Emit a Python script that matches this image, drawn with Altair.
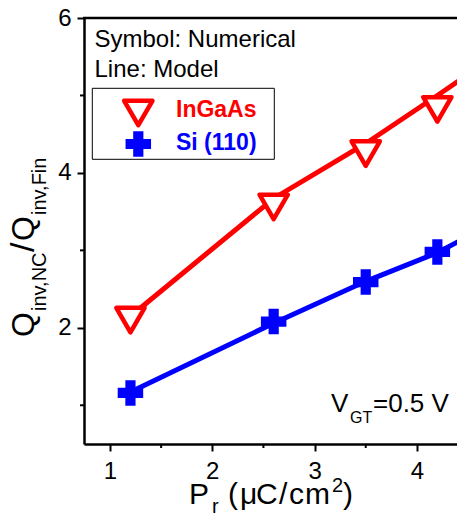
import altair as alt
import pandas as pd

# ---- data ----
pr_num = [1.2, 2.6, 3.5, 4.2]
ingaas_num = [2.10, 3.56, 4.25, 4.82]
si_num = [1.16, 2.08, 2.59, 2.98]

pr_model = [1.2, 2.6, 3.5, 4.2, 4.6]
ingaas_model = [2.15, 3.67, 4.38, 5.00, 5.36]
si_model = [1.17, 2.06, 2.60, 2.97, 3.25]

x_ticks = [1, 2, 3, 4]
x_minor = [1.5, 2.5, 3.5]
y_ticks = [2, 4, 6]
y_minor = [1, 3, 5]

series_names = ["InGaAs", "Si (110)"]

# ---- layout / style ----
W, H = 373, 426
FONT = "Liberation Sans"
RED, BLUE = "#ff0000", "#0000ff"

xscale = alt.Scale(domain=[0.746, 0.746 + W / 102.3], nice=False, zero=False)
yscale = alt.Scale(domain=[0.5, 6.0], nice=False, zero=False)

axis_common = dict(title=None, grid=False, labelFont=FONT, labelFontSize=24,
                   labelColor="black", tickSize=7, tickWidth=2, tickColor="black",
                   domainColor="black", domainWidth=2.5,
                   labelFlush=False, labelOverlap=False, format="d")
xaxis = alt.Axis(values=x_ticks, labelPadding=8, **axis_common)
yaxis = alt.Axis(values=y_ticks, labelPadding=6, **axis_common)

model_df = pd.DataFrame({
    "x": pr_model + pr_model,
    "y": ingaas_model + si_model,
    "s": [series_names[0]] * len(pr_model) + [series_names[1]] * len(pr_model),
})
ingaas_df = pd.DataFrame({"x": pr_num, "y": ingaas_num})
si_df = pd.DataFrame({"x": pr_num, "y": si_num})

one = alt.Data(values=[{"a": 0}])


def X(field="x"):
    return alt.X(f"{field}:Q", scale=xscale, axis=xaxis)


def Y(field="y"):
    return alt.Y(f"{field}:Q", scale=yscale, axis=yaxis)


def txt(s, x, y, size, color="black", bold=False, angle=0):
    kw = dict(text=s, font=FONT, fontSize=size, color=color,
              align="left", baseline="alphabetic")
    if bold:
        kw["fontWeight"] = "bold"
    if angle:
        kw["angle"] = angle
    return alt.Chart(one).mark_text(**kw).encode(x=alt.value(x), y=alt.value(y))


layers = []

# model lines (first layer: owns the axes)
layers.append(alt.Chart(model_df).mark_line(strokeWidth=5, clip=True).encode(
    x=X(), y=Y(),
    color=alt.Color("s:N", scale=alt.Scale(domain=series_names, range=[RED, BLUE]), legend=None)))

# numerical symbols
layers.append(alt.Chart(ingaas_df).mark_point(
    shape="triangle-down", size=800, filled=True, fill="white", stroke=RED,
    strokeWidth=4.5, strokeJoin="round", opacity=1).encode(x=X(), y=Y()))
layers.append(alt.Chart(si_df).mark_point(
    shape="cross", size=650, filled=True, color=BLUE, opacity=1, strokeWidth=0).encode(x=X(), y=Y()))

# minor ticks
layers.append(alt.Chart(pd.DataFrame({"x": x_minor})).mark_rule(strokeWidth=2, color="black").encode(
    x=X(), y=alt.value(H), y2=alt.value(H + 4)))
layers.append(alt.Chart(pd.DataFrame({"y": y_minor})).mark_rule(strokeWidth=2, color="black").encode(
    y=Y(), x=alt.value(0), x2=alt.value(-4)))

# legend box
layers.append(alt.Chart(one).mark_rect(fill="white", stroke="black", strokeWidth=1).encode(
    x=alt.value(8.3), x2=alt.value(190.3), y=alt.value(70.3), y2=alt.value(141.3)))

# legend symbols
layers.append(alt.Chart(one).mark_point(
    shape="triangle-down", size=800, filled=True, fill="white", stroke=RED,
    strokeWidth=4.5, strokeJoin="round", opacity=1).encode(x=alt.value(54.3), y=alt.value(95)))
layers.append(alt.Chart(one).mark_point(
    shape="cross", size=650, filled=True, color=BLUE, opacity=1, strokeWidth=0).encode(
    x=alt.value(54.3), y=alt.value(126)))
layers.append(txt("InGaAs", 92, 98.7, 23, RED, bold=True))
layers.append(txt("Si (110)", 92, 132, 23, BLUE, bold=True))

# annotations
layers.append(txt("Symbol: Numerical", 10.5, 28.7, 24))
layers.append(txt("Line: Model", 10.5, 58.7, 24))
layers.append(txt("V", 247, 394, 26))
layers.append(txt("GT", 266, 405, 16))
layers.append(txt("=0.5 V", 289, 394, 26))

# top frame line
layers.append(alt.Chart(one).mark_rule(strokeWidth=2.5, color="black").encode(
    x=alt.value(-1), x2=alt.value(W + 2), y=alt.value(0)))

# x axis title: P_r (μC/cm²)
for s, x, y, size in [("P", 105, 486, 30), ("r", 128, 495, 20), ("(", 144, 486, 30),
                      ("μ", 156, 486, 30), ("C", 172, 486, 30), ("/", 195, 486, 30),
                      ("c", 205, 486, 30), ("m", 221, 486, 30), ("2", 248, 474, 20),
                      (")", 259, 486, 30)]:
    layers.append(txt(s, x, y, size))

# y axis title: Q_inv,NC / Q_inv,Fin (rotated)
for s, x, y, size in [("Q", -50, 319, 32), ("inv,NC", -38, 293, 20), ("/", -50, 234, 34),
                      ("Q", -50, 223, 32), ("inv,Fin", -38, 197, 20)]:
    layers.append(txt(s, x, y, size, angle=270))

chart = alt.layer(*layers).properties(
    width=W, height=H,
    padding={"left": 76, "top": 10, "right": 0, "bottom": 70},
    autosize=alt.AutoSizeParams(type="none"),
).configure_view(stroke=None)

chart.save("out.html", embed_options={"renderer": "svg", "actions": False})
